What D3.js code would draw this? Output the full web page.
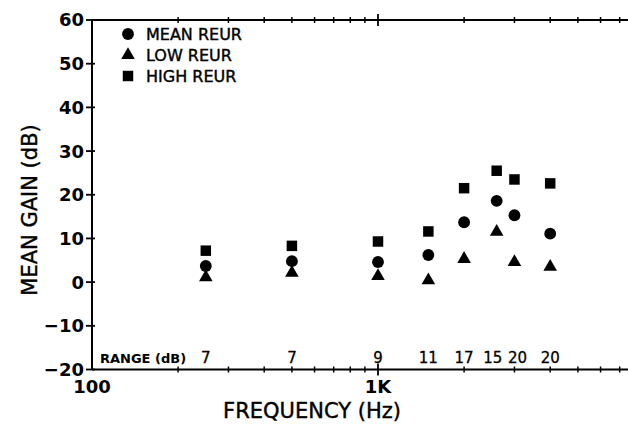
<!DOCTYPE html>
<html><head><meta charset="utf-8">
<script src="https://cdn.jsdelivr.net/npm/d3@7"></script>
<style>body{margin:0;background:#fff}svg{display:block}text{font-family:"DejaVu Sans",sans-serif;fill:#000}</style>
</head><body>
<script>
const frequencies = [250, 500, 1000, 1500, 2000, 2600, 3000, 4000];
const meanReur = [3.7, 4.8, 4.6, 6.2, 13.7, 18.6, 15.3, 11.1];
const lowReur  = [1.1, 2.1, 1.4, 0.4, 5.3, 11.5, 4.6, 3.5];
const highReur = [7.2, 8.3, 9.3, 11.6, 21.5, 25.5, 23.5, 22.6];
const rangeDb  = [7, 7, 9, 11, 17, 15, 20, 20];
const yTicks = [-20, -10, 0, 10, 20, 30, 40, 50, 60];
const xLabels = [[100, "100"], [1000, "1K"]];
const legendItems = [["circle", "MEAN REUR"], ["triangle", "LOW REUR"], ["square", "HIGH REUR"]];

const W = 628, H = 425;
const svg = d3.select("body").append("svg").attr("width", W).attr("height", H);
const x = d3.scaleLog().domain([100, 10000]).range([92, 664]);
const y = d3.scaleLinear().domain([-20, 60]).range([369.5, 20]);

const g = svg.append("g");
g.append("line").attr("x1", x(100)).attr("x2", W).attr("y1", y(-20)).attr("y2", y(-20)).attr("stroke", "#000").attr("stroke-width", 2);
g.append("line").attr("x1", x(100)).attr("x2", W).attr("y1", y(60)).attr("y2", y(60)).attr("stroke", "#000").attr("stroke-width", 2);
g.append("line").attr("x1", x(100)).attr("x2", x(100)).attr("y1", y(60)).attr("y2", y(-20)).attr("stroke", "#000").attr("stroke-width", 2);

yTicks.forEach(v => {
  g.append("line").attr("x1", x(100) - 6).attr("x2", x(100) + 3).attr("y1", y(v)).attr("y2", y(v)).attr("stroke", "#000").attr("stroke-width", 1.8);
  g.append("text").attr("x", x(100) - 8).attr("y", y(v)).attr("dy", "0.36em").attr("text-anchor", "end")
    .attr("font-size", 18).attr("font-weight", "bold").text(v < 0 ? "\u2212" + Math.abs(v) : v);
});

const minor = [];
[100, 1000].forEach(d => { for (let k = 2; k <= 9; k++) minor.push(d * k); });
[y(-20), y(60)].forEach(yy => {
  minor.forEach(f => g.append("line").attr("x1", x(f)).attr("x2", x(f)).attr("y1", yy - 3).attr("y2", yy + 3).attr("stroke", "#000").attr("stroke-width", 1.5));
  g.append("line").attr("x1", x(1000)).attr("x2", x(1000)).attr("y1", yy - 6).attr("y2", yy + 6).attr("stroke", "#000").attr("stroke-width", 1.8);
});
xLabels.forEach(([f, t]) => {
  g.append("text").attr("x", x(f)).attr("y", 393).attr("text-anchor", "middle").attr("font-size", 18).attr("font-weight", "bold").text(t);
});

svg.append("text").attr("x", 312).attr("y", 418).attr("text-anchor", "middle").attr("font-size", 21)
  .attr("stroke", "#000").attr("stroke-width", 0.4).text("FREQUENCY (Hz)");
svg.append("text").attr("transform", "translate(37,210) rotate(-90)").attr("text-anchor", "middle").attr("font-size", 21)
  .attr("stroke", "#000").attr("stroke-width", 0.4).text("MEAN GAIN (dB)");

const sym = {
  circle: d3.symbol().type(d3.symbolCircle).size(110),
  triangle: d3.symbol().type(d3.symbolTriangle).size(80),
  square: d3.symbol().type(d3.symbolSquare).size(110)
};
function draw(vals, type) {
  g.selectAll(null).data(vals).enter().append("path")
    .attr("d", sym[type]).attr("fill", "#000")
    .attr("transform", (d, i) => `translate(${x(frequencies[i])},${y(d)})`);
}
draw(meanReur, "circle");
draw(lowReur, "triangle");
draw(highReur, "square");

svg.append("text").attr("x", 100).attr("y", 363).attr("font-size", 13).attr("font-weight", "bold").text("RANGE (dB)");
const nudge = [0, 0, 0, 0, 0, -4, 3, 0];
svg.selectAll(null).data(rangeDb).enter().append("text")
  .attr("x", (d, i) => x(frequencies[i]) + nudge[i]).attr("y", 363).attr("text-anchor", "middle")
  .attr("font-size", 15).attr("stroke", "#000").attr("stroke-width", 0.3).text(d => d);

legendItems.forEach(([t, label], i) => {
  const yy = 34 + i * 21;
  svg.append("path").attr("d", sym[t]).attr("fill", "#000").attr("transform", `translate(128,${yy})`);
  svg.append("text").attr("x", 146).attr("y", yy).attr("dy", "0.36em").attr("font-size", 16)
    .attr("stroke", "#000").attr("stroke-width", 0.4).text(label);
});
</script>
</body></html>
